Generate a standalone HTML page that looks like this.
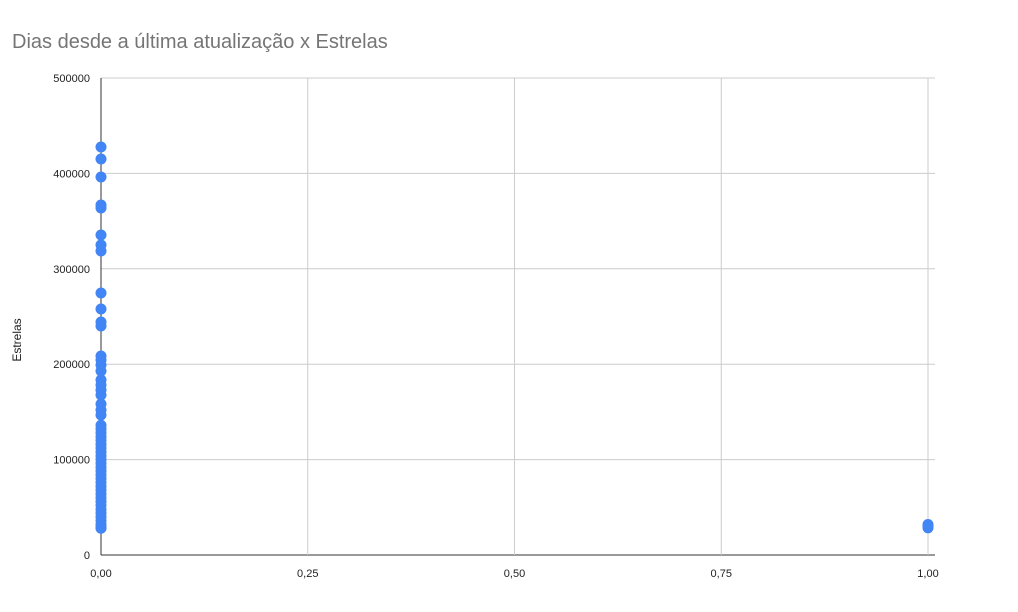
<!DOCTYPE html>
<html><head><meta charset="utf-8"><style>
body{margin:0;background:#fff;font-family:"Liberation Sans",Arial,sans-serif}
</style></head><body>
<svg id="c" width="1018" height="607" xmlns="http://www.w3.org/2000/svg">
<text x="12" y="48" font-size="20" fill="#757575">Dias desde a última atualização x Estrelas</text>
<text transform="translate(21,340) rotate(-90)" font-size="12" text-anchor="middle" fill="#222">Estrelas</text>
<g id="grid"></g><g id="pts"></g>
</svg>
<script>
const xTicks=[0,0.25,0.5,0.75,1];
const xTickLabels=["0,00","0,25","0,50","0,75","1,00"];
const yTicks=[0,100000,200000,300000,400000,500000];
const xsZero=[427700,415100,396200,366900,363700,335400,325000,318700,274600,257900,244200,240000,208600,204400,199200,192900,183500,178200,173000,167700,158300,152000,146800,136000,132000,128000,124000,120000,116000,112000,108000,104000,100000,96000,92000,88000,84000,80000,76000,72000,68000,64000,60000,56000,52000,48000,44000,40000,36000,32000,29000,28000];
const xsOne=[28500,31000,32000];
const X=v=>101+v*827, Y=v=>555-v/500000*477;
const NS="http://www.w3.org/2000/svg";
const g=document.getElementById('grid'),p=document.getElementById('pts');
function mk(t,a,par){const e=document.createElementNS(NS,t);for(const k in a)e.setAttribute(k,a[k]);par.appendChild(e);return e;}
yTicks.forEach(v=>{
 const l=mk('line',{x1:101,x2:935,y1:Y(v),y2:Y(v),stroke:v===0?'#333':'#ccc','stroke-width':1},g);
 
 
 const t=mk('text',{x:90,y:Y(v)+4,'font-size':11,'text-anchor':'end',fill:'#222'},g);t.textContent=v;
 
 
});
xTicks.forEach((v,i)=>{
 const l=mk('line',{x1:X(v),x2:X(v),y1:78,y2:555,stroke:i===0?'#333':'#ccc','stroke-width':1},g);
 
 
 const t=mk('text',{x:X(v),y:577,'font-size':11,'text-anchor':'middle',fill:'#222'},g);t.textContent=xTickLabels[i];
 
 
});
[[0,xsZero],[1,xsOne]].forEach(([xv,arr])=>arr.forEach(v=>{
 const c=mk('circle',{cx:X(xv),cy:Y(v),r:5.5,fill:'#4285f4'},p);
 
 
}));
</script>
</body></html>
